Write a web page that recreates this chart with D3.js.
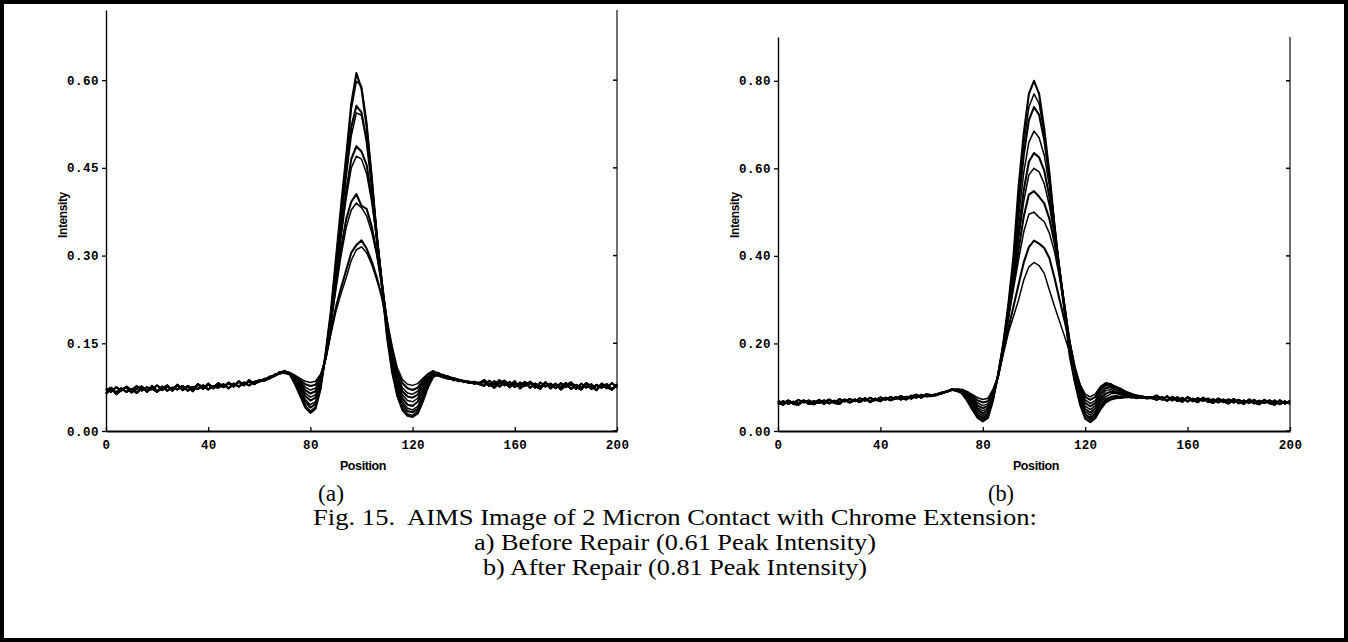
<!DOCTYPE html>
<html><head><meta charset="utf-8">
<script src="https://cdn.jsdelivr.net/npm/d3@7"></script>
<style>body{margin:0;background:#fff} svg{display:block}</style>
</head><body>
<svg id="c" width="1348" height="642"></svg>
<script>
// ---------- positions ----------
const baseLeftX = [0,2,4,6,8,10,12,14,16,18,20,22,24,26,28,30,32,34,36,38,40,42,44,46,48,50,52,54,56,58];
const featX = [60,62,64,66,68,70,72,74,76,78,80,82,84,86,88,90,92,94,96,98,100,102,104,106,108,110,112,114,116,118,120,122,124,126,128,130,132,134,136,138,140,142,144,146];
const baseRightX = [148,150,152,154,156,158,160,162,164,166,168,170,172,174,176,178,180,182,184,186,188,190,192,194,196,198,200];

// ---------- panel (a): baseline strands ----------
const aBaseL1 = [0.064,0.071,0.066,0.073,0.067,0.072,0.065,0.074,0.068,0.073,0.067,0.076,0.069,0.074,0.071,0.077,0.069,0.075,0.072,0.078,0.071,0.077,0.074,0.080,0.073,0.081,0.076,0.083,0.078,0.084];
const aBaseL2 = [0.073,0.067,0.075,0.069,0.076,0.070,0.077,0.069,0.075,0.071,0.078,0.070,0.076,0.072,0.079,0.071,0.077,0.073,0.080,0.074,0.079,0.075,0.082,0.076,0.081,0.078,0.084,0.079,0.085,0.081];
const aBaseL3 = [0.069,0.074,0.063,0.070,0.075,0.066,0.072,0.076,0.067,0.077,0.068,0.073,0.078,0.069,0.079,0.070,0.076,0.068,0.080,0.072,0.081,0.073,0.079,0.075,0.083,0.076,0.085,0.078,0.087,0.080];
const aBaseR1 = [0.084,0.077,0.085,0.076,0.083,0.075,0.082,0.077,0.084,0.074,0.081,0.076,0.083,0.073,0.080,0.075,0.082,0.072,0.079,0.074,0.081,0.072,0.079,0.074,0.080,0.071,0.078];
const aBaseR2 = [0.077,0.086,0.079,0.087,0.078,0.084,0.075,0.083,0.077,0.082,0.074,0.083,0.076,0.081,0.073,0.082,0.075,0.080,0.072,0.081,0.074,0.080,0.071,0.080,0.073,0.082,0.074];
const aBaseR3 = [0.087,0.080,0.074,0.082,0.086,0.078,0.085,0.073,0.079,0.084,0.077,0.072,0.083,0.076,0.081,0.071,0.078,0.083,0.075,0.071,0.082,0.076,0.070,0.081,0.075,0.071,0.080];

// ---------- panel (a): peak region of each profile ----------
const a1 = [.086,.088,.091,.095,.100,.103,.096,.080,.060,.040,.031,.038,.072,.135,.205,.295,.385,.470,.560,.612,.585,.520,.430,.330,.248,.160,.100,.060,.036,.026,.024,.030,.050,.075,.092,.097,.093,.090,.088,.086,.085,.083,.082,.082];
const a2 = [.084,.090,.089,.096,.098,.101,.097,.083,.063,.044,.034,.041,.075,.132,.200,.290,.378,.462,.550,.598,.590,.530,.440,.340,.252,.165,.104,.064,.040,.029,.027,.034,.054,.078,.095,.094,.091,.092,.086,.088,.083,.085,.080,.083];
const a3 = [.087,.086,.092,.094,.101,.099,.097,.085,.068,.050,.040,.046,.078,.130,.198,.282,.365,.445,.520,.556,.545,.495,.420,.330,.248,.168,.108,.068,.045,.034,.032,.038,.058,.080,.096,.098,.092,.089,.090,.085,.086,.082,.084,.081];
const a4 = [.085,.089,.090,.097,.099,.102,.098,.087,.071,.054,.045,.050,.080,.128,.195,.278,.358,.435,.505,.544,.540,.500,.425,.338,.255,.175,.113,.072,.050,.039,.036,.042,.062,.083,.094,.100,.095,.091,.087,.087,.084,.084,.081,.082];
const a5 = [.086,.087,.093,.095,.100,.100,.099,.089,.075,.060,.052,.057,.083,.128,.192,.268,.340,.410,.465,.487,.478,.455,.400,.330,.255,.180,.118,.078,.056,.045,.043,.050,.068,.086,.097,.096,.094,.093,.089,.086,.085,.083,.083,.080];
const a6 = [.084,.088,.091,.096,.098,.101,.098,.090,.078,.065,.058,.062,.086,.127,.188,.262,.332,.398,.450,.470,.465,.440,.392,.328,.256,.185,.124,.084,.062,.052,.050,.056,.072,.089,.095,.099,.092,.090,.091,.087,.084,.085,.082,.081];
const a7 = [.087,.086,.090,.094,.099,.100,.097,.091,.081,.070,.064,.068,.089,.126,.185,.250,.312,.362,.392,.405,.385,.380,.350,.305,.248,.185,.128,.090,.068,.059,.057,.062,.078,.090,.098,.095,.096,.091,.088,.088,.085,.083,.084,.082];
const a8 = [.085,.089,.092,.095,.101,.099,.098,.092,.084,.075,.070,.073,.091,.125,.182,.243,.300,.348,.378,.390,.382,.368,.340,.300,.250,.190,.134,.096,.074,.065,.063,.068,.082,.093,.097,.100,.093,.092,.089,.086,.086,.084,.081,.083];
const a9 = [.086,.087,.091,.096,.098,.101,.099,.094,.087,.080,.077,.079,.094,.124,.170,.212,.245,.275,.305,.318,.326,.312,.290,.262,.228,.182,.138,.102,.082,.073,.070,.074,.086,.096,.100,.097,.095,.093,.090,.087,.085,.084,.083,.082];
const a10 = [.084,.088,.092,.094,.100,.102,.100,.095,.090,.085,.083,.085,.097,.123,.165,.205,.235,.262,.292,.310,.315,.305,.285,.258,.232,.190,.145,.108,.088,.080,.078,.081,.090,.098,.103,.099,.096,.092,.091,.088,.086,.083,.084,.081];

// ---------- panel (b): baseline strands ----------
const bBaseL1 = [0.061,0.068,0.062,0.067,0.063,0.069,0.062,0.068,0.064,0.070,0.063,0.069,0.065,0.071,0.066,0.072,0.067,0.073,0.068,0.074,0.069,0.075,0.071,0.077,0.072,0.078,0.074,0.080,0.077,0.082];
const bBaseL2 = [0.069,0.063,0.070,0.064,0.071,0.065,0.070,0.064,0.071,0.066,0.072,0.065,0.073,0.067,0.073,0.068,0.075,0.069,0.076,0.070,0.077,0.071,0.078,0.073,0.080,0.074,0.081,0.076,0.083,0.079];
const bBaseL3 = [0.066,0.060,0.069,0.062,0.060,0.070,0.064,0.061,0.069,0.062,0.071,0.064,0.062,0.072,0.065,0.070,0.066,0.075,0.066,0.072,0.068,0.076,0.070,0.075,0.078,0.072,0.079,0.083,0.076,0.084];
const bBaseR1 = [0.078,0.072,0.079,0.070,0.077,0.070,0.076,0.068,0.075,0.069,0.074,0.067,0.073,0.066,0.072,0.065,0.071,0.064,0.070,0.063,0.069,0.064,0.070,0.062,0.069,0.063,0.068];
const bBaseR2 = [0.071,0.078,0.069,0.077,0.068,0.076,0.067,0.074,0.068,0.075,0.066,0.073,0.065,0.072,0.064,0.071,0.063,0.070,0.064,0.071,0.062,0.069,0.063,0.070,0.061,0.068,0.062];
const bBaseR3 = [0.081,0.073,0.070,0.078,0.072,0.067,0.077,0.071,0.066,0.076,0.069,0.064,0.074,0.068,0.063,0.073,0.066,0.062,0.072,0.065,0.061,0.071,0.064,0.060,0.070,0.063,0.068];

// ---------- panel (b): peak region of each profile ----------
const b1 = [.080,.083,.086,.090,.094,.092,.085,.068,.048,.030,.022,.030,.070,.130,.200,.290,.400,.560,.680,.770,.800,.770,.690,.590,.470,.360,.270,.170,.110,.060,.028,.020,.030,.050,.065,.072,.075,.076,.078,.077,.078,.076,.077,.075];
const b2 = [.079,.084,.085,.091,.093,.093,.087,.071,.052,.034,.026,.034,.073,.130,.198,.285,.390,.540,.655,.740,.770,.748,.680,.585,.470,.365,.272,.175,.112,.064,.033,.025,.035,.055,.068,.074,.077,.075,.079,.076,.077,.075,.076,.074];
const b3 = [.081,.082,.087,.089,.095,.091,.088,.074,.056,.038,.030,.038,.075,.129,.196,.282,.382,.520,.630,.710,.740,.722,.665,.578,.468,.368,.275,.180,.116,.068,.038,.030,.040,.060,.072,.078,.080,.078,.077,.079,.075,.077,.074,.076];
const b4 = [.080,.084,.086,.091,.094,.094,.089,.077,.060,.043,.035,.042,.078,.128,.194,.278,.372,.490,.590,.660,.685,.670,.630,.560,.465,.370,.280,.185,.120,.073,.044,.036,.046,.066,.078,.085,.086,.082,.080,.078,.079,.076,.077,.075];
const b5 = [.082,.083,.088,.090,.096,.092,.090,.080,.064,.048,.040,.047,.080,.127,.192,.272,.360,.460,.550,.615,.635,.625,.595,.535,.455,.368,.282,.190,.125,.078,.050,.042,.052,.072,.085,.090,.088,.085,.083,.080,.078,.079,.076,.077];
const b6 = [.079,.085,.087,.092,.093,.095,.091,.082,.068,.053,.046,.052,.083,.127,.190,.268,.350,.440,.525,.585,.600,.592,.565,.515,.445,.365,.283,.195,.130,.084,.057,.049,.058,.078,.092,.095,.090,.086,.084,.081,.080,.077,.078,.075];
const b7 = [.081,.082,.088,.090,.095,.093,.092,.084,.072,.058,.052,.057,.086,.126,.188,.262,.338,.415,.490,.540,.548,.535,.520,.485,.430,.360,.283,.200,.135,.090,.064,.056,.064,.085,.098,.100,.094,.089,.085,.082,.079,.078,.076,.077];
const b8 = [.080,.084,.086,.091,.094,.096,.093,.086,.076,.064,.058,.062,.089,.126,.186,.256,.325,.392,.455,.495,.500,.488,.478,.452,.410,.350,.282,.205,.142,.097,.071,.063,.070,.092,.104,.102,.098,.092,.087,.083,.081,.077,.078,.075];
const b9 = [.082,.083,.087,.090,.095,.094,.094,.088,.080,.070,.065,.068,.092,.125,.182,.235,.285,.335,.385,.420,.435,.428,.418,.395,.350,.300,.250,.200,.145,.104,.078,.071,.078,.098,.108,.105,.101,.095,.089,.084,.080,.079,.077,.076];
const b10 = [.080,.085,.088,.091,.093,.095,.095,.090,.083,.076,.072,.075,.095,.124,.175,.225,.262,.300,.345,.375,.385,.378,.360,.322,.285,.250,.215,.178,.140,.106,.084,.078,.085,.102,.110,.108,.100,.097,.090,.086,.082,.080,.077,.078];

// ---------- ticks & text ----------
const xTicks = [0,40,80,120,160,200];
const aYTicks = [0,0.15,0.30,0.45,0.60];
const bYTicks = [0,0.20,0.40,0.60,0.80];
const yLabel = "Intensity";
const xLabel = "Position";
const panelTags = ["(a)", "(b)"];
const captionLines = [
  "Fig. 15.  AIMS Image of 2 Micron Contact with Chrome Extension:",
  "a) Before Repair (0.61 Peak Intensity)",
  "b) After Repair (0.81 Peak Intensity)"
];

// ---------- drawing ----------
const svg = d3.select('#c');
svg.append('rect').attr('x',2).attr('y',2).attr('width',1344).attr('height',638)
  .attr('fill','#fff').attr('stroke','#000').attr('stroke-width',4);

function buildSeries(feat, baseL, baseR) {
  return baseLeftX.map((x,i)=>[x, baseL[i]])
    .concat(featX.map((x,i)=>[x, feat[i]]))
    .concat(baseRightX.map((x,i)=>[x, baseR[i]]));
}

function panel(cfg) {
  const g = svg.append('g');
  const x = d3.scaleLinear().domain([0,200]).range([cfg.x0, cfg.x1]);
  const y = d3.scaleLinear().domain([0, cfg.ymax]).range([431, cfg.ytop]);

  // right frame line with inward ticks
  g.append('line').attr('x1',x(200)).attr('x2',x(200)).attr('y1',cfg.ytop).attr('y2',431)
    .attr('stroke','#111').attr('stroke-width',1.2);
  cfg.yTicks.forEach(t=>{
    g.append('line').attr('x1',x(200)-4).attr('x2',x(200)).attr('y1',y(t)).attr('y2',y(t))
      .attr('stroke','#000').attr('stroke-width',1.5);
  });

  // curves
  const line = d3.line().x(d=>x(d[0])).y(d=>y(d[1]));
  cfg.series.forEach((s,i)=>{
    const strand = i % 3;
    const data = buildSeries(s, cfg.baseL[strand], cfg.baseR[strand]);
    g.append('path').datum(data).attr('d', line)
      .attr('fill','none').attr('stroke','#000')
      .attr('stroke-width', i % 2 === 0 ? 2.1 : 1.5)
      .attr('stroke-linejoin','round');
  });

  // x axis
  const xa = g.append('g').attr('transform','translate(0,431)')
    .call(d3.axisBottom(x).tickValues(xTicks).tickSize(-4).tickSizeOuter(0).tickPadding(9).tickFormat(d=>String(d)));
  xa.select('.domain').attr('stroke','#000').attr('stroke-width',2);
  xa.selectAll('.tick line').attr('stroke','#000').attr('stroke-width',1.3);
  xa.selectAll('.tick text').attr('font-family','Liberation Mono, DejaVu Sans Mono, monospace')
    .attr('font-weight','bold').attr('font-size',12.5).attr('letter-spacing','0.3px').attr('fill','#000');

  // y axis
  const ya = g.append('g').attr('transform',`translate(${cfg.x0},0)`)
    .call(d3.axisLeft(y).tickValues(cfg.yTicks).tickSize(4).tickSizeOuter(0).tickPadding(3).tickFormat(d3.format('.2f')));
  ya.select('.domain').attr('stroke','#000').attr('stroke-width',1.4);
  ya.selectAll('.tick line').attr('stroke','#000').attr('stroke-width',1.3);
  ya.selectAll('.tick text').attr('font-family','Liberation Mono, DejaVu Sans Mono, monospace')
    .attr('font-weight','bold').attr('font-size',12.5).attr('letter-spacing','0.5px').attr('fill','#000');

  // axis titles
  g.append('text').attr('transform',`translate(${cfg.yLabelX},215) rotate(-90)`)
    .attr('text-anchor','middle').attr('dy','0.35em')
    .attr('font-family','Liberation Sans, Arial, sans-serif').attr('font-weight','bold')
    .attr('font-size',12).attr('letter-spacing','-0.4px').text(yLabel);
  g.append('text').attr('x', cfg.xLabelX).attr('y',470)
    .attr('text-anchor','middle')
    .attr('font-family','Liberation Sans, Arial, sans-serif').attr('font-weight','bold')
    .attr('font-size',12.5).attr('letter-spacing','-0.4px').text(xLabel);
}

panel({x0:106, x1:617, ymax:0.72, ytop:10, yTicks:aYTicks,
  series:[a1,a2,a3,a4,a5,a6,a7,a8,a9,a10],
  baseL:[aBaseL1,aBaseL2,aBaseL3], baseR:[aBaseR1,aBaseR2,aBaseR3],
  yLabelX:63, xLabelX:363});
panel({x0:778, x1:1290, ymax:0.90, ytop:37, yTicks:bYTicks,
  series:[b1,b2,b3,b4,b5,b6,b7,b8,b9,b10],
  baseL:[bBaseL1,bBaseL2,bBaseL3], baseR:[bBaseR1,bBaseR2,bBaseR3],
  yLabelX:735, xLabelX:1036});

// caption
const serif = 'Liberation Serif, Times New Roman, serif';
svg.append('text').attr('x',331).attr('y',501).attr('text-anchor','middle')
  .attr('font-family',serif).attr('font-size',23).attr('textLength',26).attr('lengthAdjust','spacingAndGlyphs').text(panelTags[0]);
svg.append('text').attr('x',1001).attr('y',501).attr('text-anchor','middle')
  .attr('font-family',serif).attr('font-size',23).attr('textLength',26).attr('lengthAdjust','spacingAndGlyphs').text(panelTags[1]);
const capLens = [724, 402, 384];
const capY = [525, 550, 575];
captionLines.forEach((t,i)=>{
  svg.append('text').attr('x',675).attr('y',capY[i]).attr('text-anchor','middle')
    .attr('font-family',serif).attr('font-size',23.5)
    .attr('textLength',capLens[i]).attr('lengthAdjust','spacingAndGlyphs')
    .style('white-space','pre').text(t);
});
</script>
</body></html>
